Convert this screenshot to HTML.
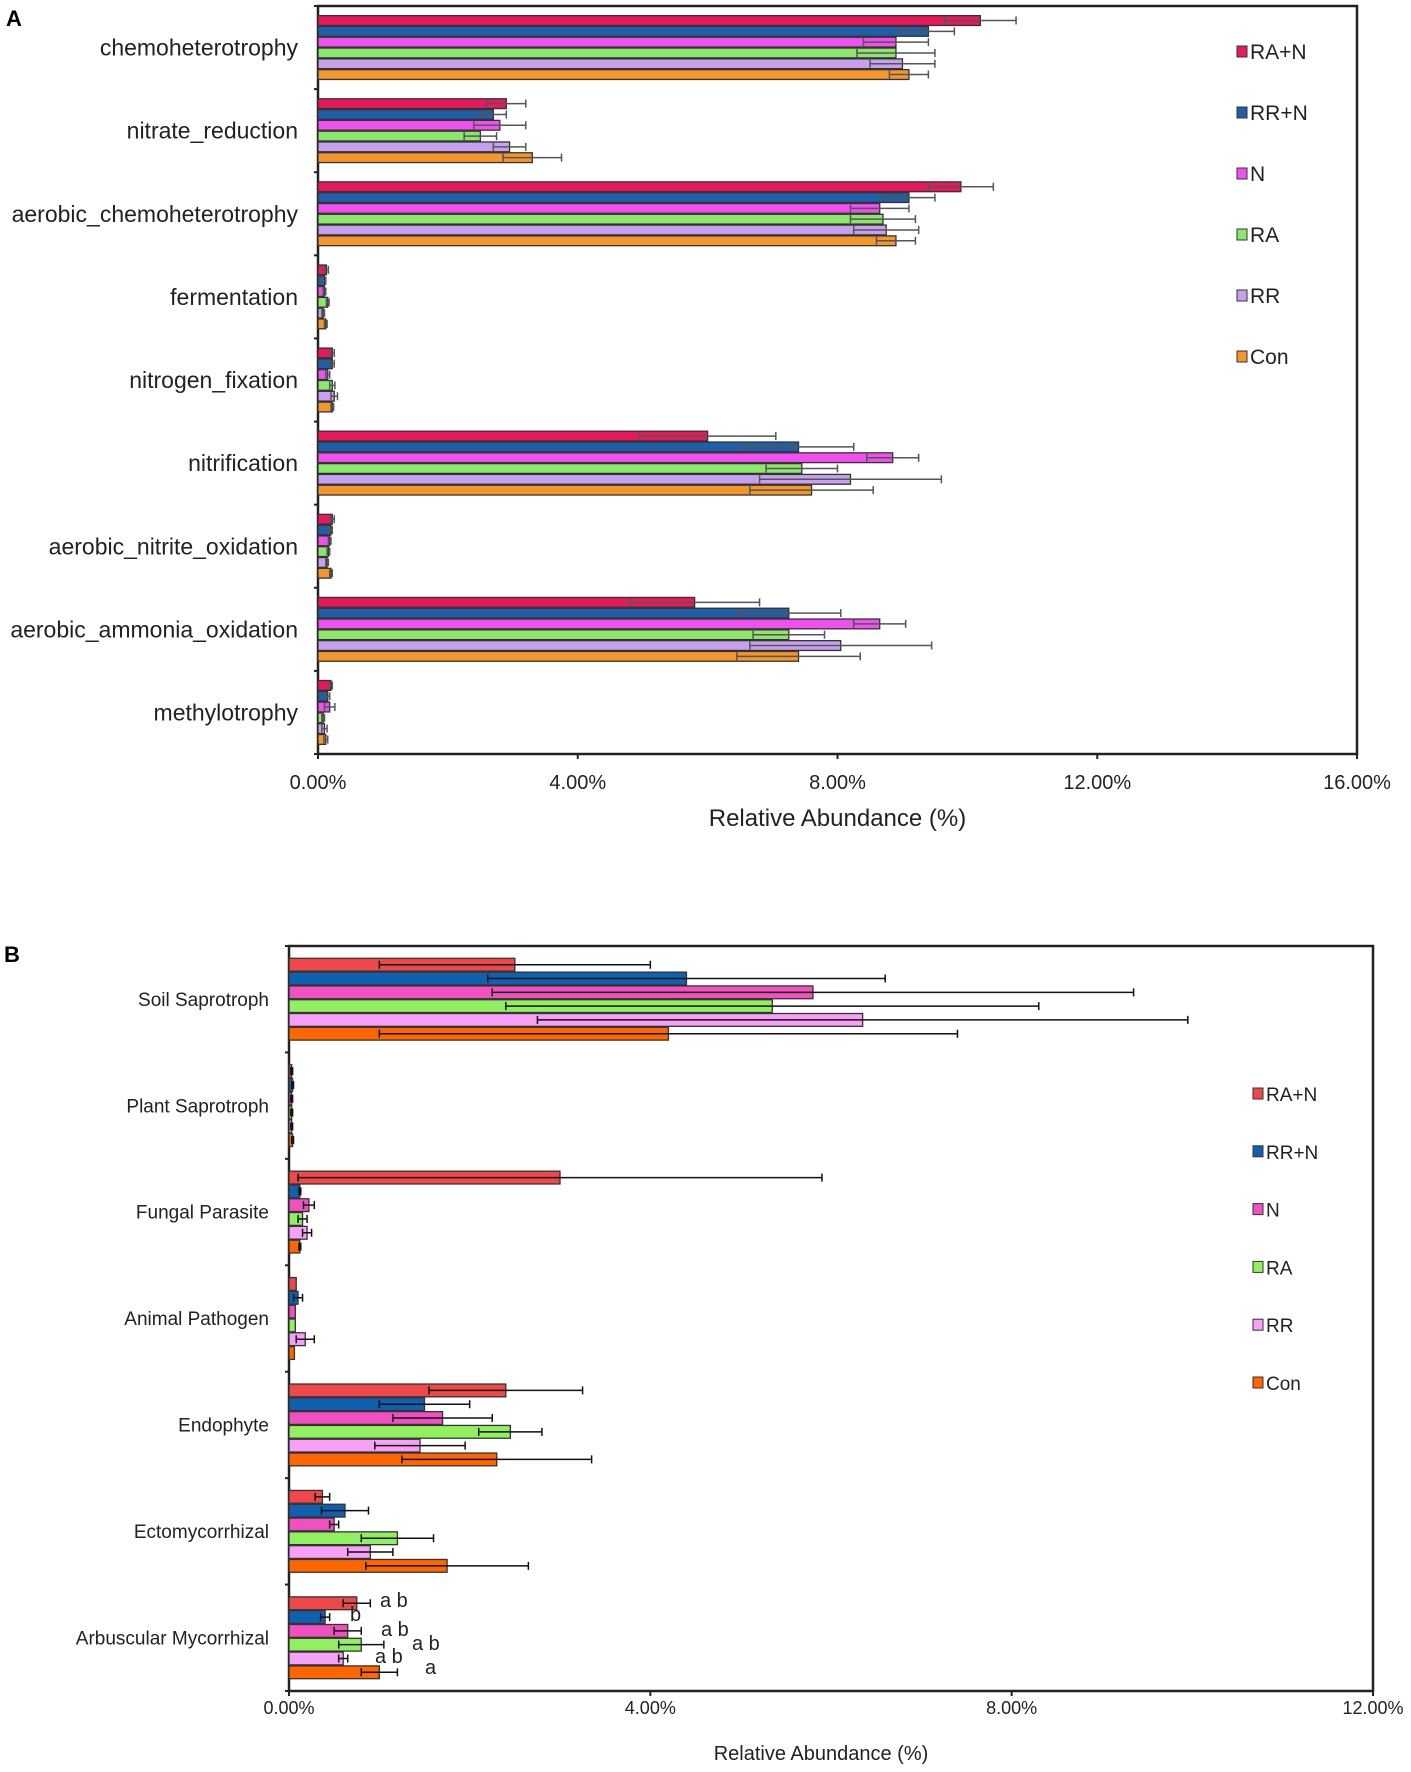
<!DOCTYPE html>
<html><head><meta charset="utf-8">
<style>
html,body{margin:0;padding:0;background:#fff;}
svg{display:block;font-family:"Liberation Sans",Arial,sans-serif;}
</style></head>
<body>
<svg id="chart" width="1411" height="1772" viewBox="0 0 1411 1772" xmlns="http://www.w3.org/2000/svg">
<text x="6" y="26" font-size="22" font-weight="bold">A</text>
<text x="4" y="962" font-size="22" font-weight="bold">B</text>
<g id="pa"></g>
<g id="pb"></g>
</svg>
<script>
// ---- Panel A data ----
const seriesNames = ["RA+N","RR+N","N","RA","RR","Con"];
const catsA = ["chemoheterotrophy","nitrate_reduction","aerobic_chemoheterotrophy","fermentation","nitrogen_fixation","nitrification","aerobic_nitrite_oxidation","aerobic_ammonia_oxidation","methylotrophy"];
const valsA_RAN = [10.2,2.9,9.9,0.13,0.22,6.0,0.22,5.8,0.2];
const valsA_RRN = [9.4,2.7,9.1,0.1,0.22,7.4,0.2,7.25,0.15];
const valsA_N   = [8.9,2.8,8.65,0.1,0.15,8.85,0.18,8.65,0.18];
const valsA_RA  = [8.9,2.5,8.7,0.15,0.22,7.45,0.16,7.25,0.08];
const valsA_RR  = [9.0,2.95,8.75,0.08,0.25,8.2,0.14,8.05,0.1];
const valsA_Con = [9.1,3.3,8.9,0.12,0.22,7.6,0.2,7.4,0.12];
const errA_RAN = [0.55,0.3,0.5,0.03,0.03,1.05,0.03,1.0,0.02];
const errA_RRN = [0.4,0.2,0.4,0.02,0.03,0.85,0.02,0.8,0.03];
const errA_N   = [0.5,0.4,0.45,0.02,0.03,0.4,0.02,0.4,0.08];
const errA_RA  = [0.6,0.25,0.5,0.02,0.04,0.55,0.02,0.55,0.02];
const errA_RR  = [0.5,0.25,0.5,0.02,0.05,1.4,0.02,1.4,0.04];
const errA_Con = [0.3,0.45,0.3,0.02,0.02,0.95,0.02,0.95,0.03];
const ticksA = [0,4,8,12,16];
const tickLabelsA = ["0.00%","4.00%","8.00%","12.00%","16.00%"];
// ---- Panel B data ----
const catsB = ["Soil Saprotroph","Plant Saprotroph","Fungal Parasite","Animal Pathogen","Endophyte","Ectomycorrhizal","Arbuscular Mycorrhizal"];
const valsB_RAN = [2.5,0.03,3.0,0.08,2.4,0.37,0.75];
const valsB_RRN = [4.4,0.04,0.12,0.1,1.5,0.62,0.4];
const valsB_N   = [5.8,0.03,0.22,0.07,1.7,0.5,0.65];
const valsB_RA  = [5.35,0.03,0.15,0.07,2.45,1.2,0.8];
const valsB_RR  = [6.35,0.03,0.2,0.18,1.45,0.9,0.6];
const valsB_Con = [4.2,0.04,0.12,0.06,2.3,1.75,1.0];
const errB_RAN = [1.5,0.01,2.9,0.0,0.85,0.08,0.15];
const errB_RRN = [2.2,0.01,0.01,0.05,0.5,0.26,0.05];
const errB_N   = [3.55,0.01,0.06,0.0,0.55,0.05,0.15];
const errB_RA  = [2.95,0.01,0.05,0.0,0.35,0.4,0.25];
const errB_RR  = [3.6,0.01,0.05,0.1,0.5,0.25,0.05];
const errB_Con = [3.2,0.01,0.01,0.0,1.05,0.9,0.2];
const ticksB = [0,4,8,12];
const tickLabelsB = ["0.00%","4.00%","8.00%","12.00%"];
const lettersB = ["a b","b","a b","a b","a b","a"];

const NS="http://www.w3.org/2000/svg";
function mk(parent,tag,attrs){const e=document.createElementNS(NS,tag);for(const k in attrs)e.setAttribute(k,attrs[k]);parent.appendChild(e);return e;}

function drawPanel(g,cfg){
  const {left,right,top,bottom,max,cats,vals,errs,colors,ticks,tickLabels,fs,labFs,errColor,legendX,legendY,legendStep,titleY,tickY,barH,key}=cfg;
  const x=v=>left+(v/max)*(right-left);
  const band=(bottom-top)/cats.length;
  const yc=i=>top+band*(i+0.5);
  let f=mk(g,'rect',{x:left,y:top,width:right-left,height:bottom-top,fill:'none',stroke:'#222','stroke-width':2.5});
  
  
  for(let i=0;i<=cats.length;i++){
    const t=mk(g,'line',{x1:left-4,x2:left,y1:top+band*i,y2:top+band*i,stroke:'#222','stroke-width':2});
    
    
  }
  cats.forEach((c,i)=>{
    const t=mk(g,'text',{x:left-20,y:yc(i)+labFs*0.35,'font-size':labFs,'text-anchor':'end',fill:'#222'});
    t.textContent=c;
    
    
    const g0=yc(i)-barH*3;
    vals.forEach((arr,s)=>{
      const v=arr[i], e=errs[s][i];
      const y0=g0+s*barH;
      const b=mk(g,'rect',{x:left,y:y0+0.5,width:Math.max(0,x(v)-left),height:barH-1,fill:colors[s],stroke:'#333','stroke-width':1.3});
      
      
      if(e>0){
        const ym=y0+barH/2;
        const el=mk(g,'path',{d:`M${x(Math.max(0,v-e))},${ym}H${x(v+e)}M${x(Math.max(0,v-e))},${ym-4}v8M${x(v+e)},${ym-4}v8`,stroke:errColor,'stroke-width':1.5,fill:'none'});
        
        
      }
    });
  });
  ticks.forEach((t,i)=>{
    const l=mk(g,'line',{x1:x(t),x2:x(t),y1:bottom,y2:bottom+5,stroke:'#222','stroke-width':2});
    
    
    const tx=mk(g,'text',{x:x(t),y:tickY,'font-size':fs,'text-anchor':'middle',fill:'#222'});
    tx.textContent=tickLabels[i];
    
    
  });
  const at=mk(g,'text',{x:(left+right)/2 - (key==='a'?0:10),y:titleY,'font-size':cfg.titleFs,'text-anchor':'middle',fill:'#222'});
  at.textContent='Relative Abundance  (%)';
  
  
  seriesNames.forEach((n,s)=>{
    const yy=legendY+s*legendStep;
    const r=mk(g,'rect',{x:legendX,y:yy-6,width:10,height:11,fill:colors[s],stroke:'#333','stroke-width':1});
    
    
    const t=mk(g,'text',{x:legendX+13,y:yy+7,'font-size':cfg.legFs,fill:'#222'});
    t.textContent=n;
    
    
  });
}

drawPanel(document.getElementById('pa'),{key:'a',left:318,right:1357,top:6,bottom:754,max:16,cats:catsA,
  vals:[valsA_RAN,valsA_RRN,valsA_N,valsA_RA,valsA_RR,valsA_Con],
  errs:[errA_RAN,errA_RRN,errA_N,errA_RA,errA_RR,errA_Con],
  colors:["#e8185a","#1f5fa8","#f050f0","#8ce86a","#c8a0f0","#f5962a"],
  ticks:ticksA,tickLabels:tickLabelsA,fs:20,labFs:23,titleFs:24,errColor:'#555',
  legendX:1237,legendY:52,legendStep:61,titleY:826,tickY:789,barH:10.8,legFs:21});

drawPanel(document.getElementById('pb'),{key:'b',left:289,right:1373,top:946,bottom:1691,max:12,cats:catsB,
  vals:[valsB_RAN,valsB_RRN,valsB_N,valsB_RA,valsB_RR,valsB_Con],
  errs:[errB_RAN,errB_RRN,errB_N,errB_RA,errB_RR,errB_Con],
  colors:["#f04848","#1060b0","#f050c0","#90f060","#f8a0f8","#ff6600"],
  ticks:ticksB,tickLabels:tickLabelsB,fs:18,labFs:19,titleFs:20,errColor:'#111',
  legendX:1253,legendY:1094,legendStep:57.8,titleY:1760,tickY:1714,barH:13.8,legFs:19});

const letterX=[380,350,381,412,375,425];
const letterY=[1607,1621,1636,1650,1663,1674];
lettersB.forEach((l,i)=>{
  const t=mk(document.getElementById('pb'),'text',{x:letterX[i],y:letterY[i],'font-size':20,fill:'#222'});
  t.textContent=l;
  
  
});
</script>
</body></html>
